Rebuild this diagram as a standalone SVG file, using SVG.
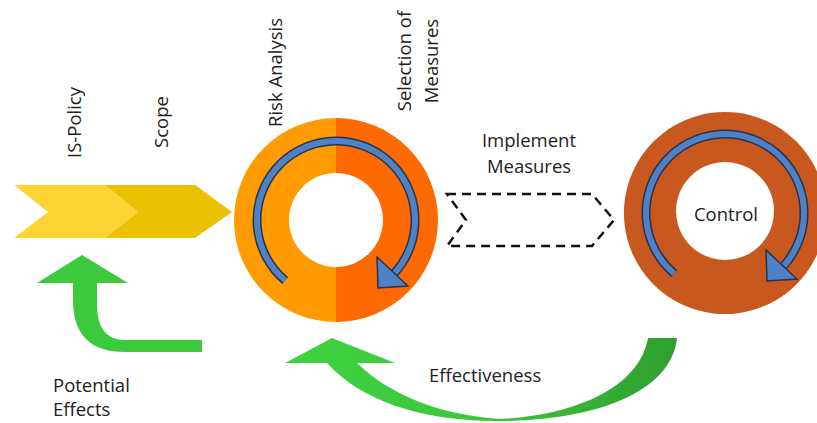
<svg xmlns="http://www.w3.org/2000/svg" width="817" height="423" viewBox="0 0 817 423">
<style>
text{font-family:"Open Sans","Noto Sans","Liberation Sans",sans-serif;font-size:18.5px;fill:#222}
.arcO{fill:none;stroke:#24344f;stroke-width:9}
.arcI{fill:none;stroke:#4f81c4;stroke-width:6}
.head{fill:#4f81c4;stroke:#24344f;stroke-width:1.5;stroke-linejoin:miter}
</style>
<defs>
<g id="cycle">
<path class="arcO" d="M -50.8,60.5 A 79 79 0 1 1 58.7,52.9"/>
<path class="arcI" d="M -50.8,60.5 A 79 79 0 1 1 58.7,52.9"/>
<polygon class="head" points="41,37 72,66 42,68"/>
</g>
<linearGradient id="gEff" x1="285" y1="0" x2="677" y2="0" gradientUnits="userSpaceOnUse">
<stop offset="0" stop-color="#3fd33f"/>
<stop offset="0.5" stop-color="#3cc63c"/>
<stop offset="1" stop-color="#2e9f2e"/>
</linearGradient>
</defs>
<rect width="817" height="423" fill="#ffffff"/>

<g id="is-policy">
<polygon points="14,185 105,185 138,212 105,238 14,238 48,212" fill="#fdd434"/>
<text transform="translate(81,158) rotate(-90)">IS-Policy</text>
</g>
<g id="scope">
<polygon points="105,185 195,185 232,212 195,238 105,238 138,212" fill="#ebc102"/>
<text transform="translate(168,148) rotate(-90)">Scope</text>
</g>

<g id="risk-cycle">
<path d="M336,118 A102 102 0 0 0 336,322 L336,267 A47 47 0 0 1 336,173 Z" fill="#ff9a00"/>
<path d="M336,118 A102 102 0 0 1 336,322 L336,267 A47 47 0 0 0 336,173 Z" fill="#ff6a00"/>
<use href="#cycle" transform="translate(336,220)"/>
<text transform="translate(282,127) rotate(-90)">Risk Analysis</text>
<text transform="translate(411,61) rotate(-90)" text-anchor="middle">Selection of</text>
<text transform="translate(438,61) rotate(-90)" text-anchor="middle">Measures</text>
</g>

<g id="implement">
<polygon points="447,194 592,194 614,220 592,246 447,246 466,220" fill="none" stroke="#111" stroke-width="2.5" stroke-dasharray="9,6"/>
<text x="529" y="147" text-anchor="middle">Implement</text>
<text x="529" y="173" text-anchor="middle">Measures</text>
</g>

<g id="control">
<path d="M725,112 A101 101 0 1 1 724.9,112 Z M725,162 A49 49 0 1 0 725.1,162 Z" fill="#c9581f" fill-rule="evenodd"/>
<use href="#cycle" transform="translate(725,213)"/>
<text x="726" y="221" text-anchor="middle">Control</text>
</g>

<g id="connectors">
<path id="potential-arrow" d="M37,283 L82,255 L128,283 L97,283 L97,305 Q97,340 125,340 L202,340 L202,352 L125,352 Q73,352 73,300 L73,283 Z" fill="#3cca3c"/>
<path id="effect-arrow" d="M285,363 L332,338 L395,363 L357,363 C390,395 440,415 500,419 C580,415 640,385 648,338 L677,338 C672,390 600,421 497,421 C420,421 360,400 327,363 Z" fill="url(#gEff)"/>
</g>

<g id="labels">
<text x="53" y="392">Potential</text>
<text x="53" y="416">Effects</text>
<text x="429" y="382">Effectiveness</text>
</g>
</svg>
